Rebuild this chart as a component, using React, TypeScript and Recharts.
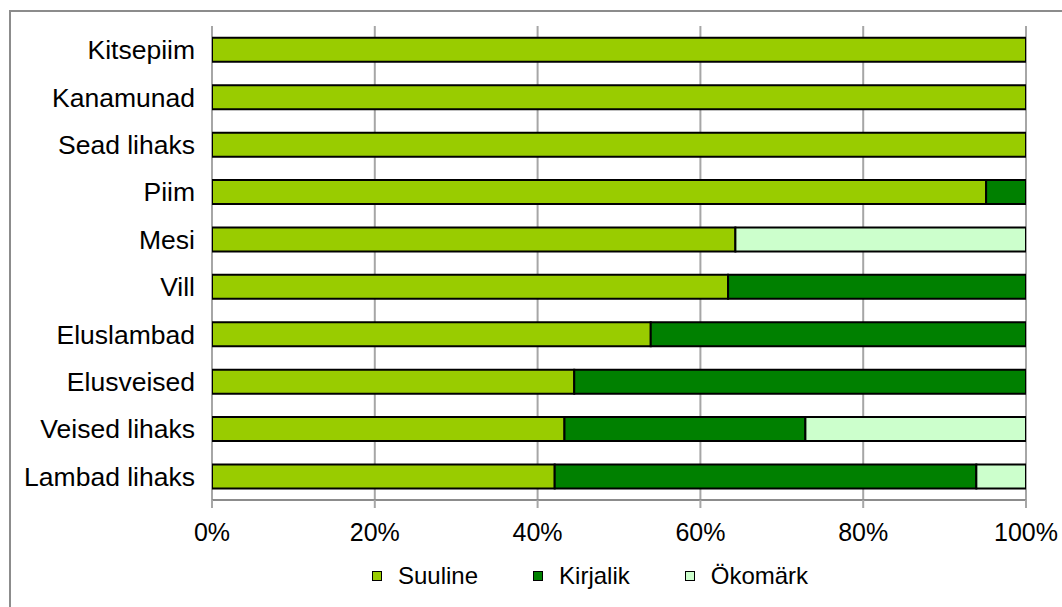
import React from 'react';
import { BarChart, Bar, XAxis, YAxis, CartesianGrid, Legend } from 'recharts';

const categories = ['Kitsepiim', 'Kanamunad', 'Sead lihaks', 'Piim', 'Mesi', 'Vill', 'Eluslambad', 'Elusveised', 'Veised lihaks', 'Lambad lihaks'];
const suuline = [100, 100, 100, 95.1, 64.3, 63.4, 53.9, 44.5, 43.3, 42.1];
const kirjalik = [0, 0, 0, 4.9, 0, 36.6, 46.1, 55.5, 29.6, 51.8];
const okomark = [0, 0, 0, 0, 35.7, 0, 0, 0, 27.1, 6.1];
const xTicks = [0, 20, 40, 60, 80, 100];
const boundaryTicks = [0, 1, 2, 3, 4, 5, 6, 7, 8, 9, 10];

const seriesNames = ['Suuline', 'Kirjalik', 'Ökomärk'];
const seriesColors = ['#99CC00', '#008000', '#CCFFCC'];

const data = categories.map((name, i) => ({
  name,
  Suuline: suuline[i],
  Kirjalik: kirjalik[i],
  'Ökomärk': okomark[i],
}));

const FONT = '"Liberation Sans", Arial, sans-serif';

const LegendContent = (props: any) => {
  const payload = props.payload || [];
  const ordered = seriesNames.map((n, i) => {
    const found = payload.find((p: any) => p.value === n || p.dataKey === n);
    return { value: n, color: found ? found.color : seriesColors[i] };
  });
  return (
    <div style={{ display: 'flex', alignItems: 'center', height: 30, fontFamily: FONT, fontSize: 24, color: '#000' }}>
      {ordered.map((p: any, i: number) => (
        <div key={i} style={{ display: 'flex', alignItems: 'center', marginRight: i < ordered.length - 1 ? 55 : 0 }}>
          <span style={{ display: 'inline-block', width: 8, height: 8, border: '1px solid #000', background: p.color, marginRight: 16 }} />
          <span style={{ whiteSpace: 'nowrap', lineHeight: '30px' }}>{p.value}</span>
        </div>
      ))}
    </div>
  );
};

export default function App() {
  return (
    <div style={{ position: 'absolute', left: 0, top: 0, width: 1062, height: 607, background: '#fff', overflow: 'hidden', fontFamily: FONT }}>
      <div style={{ position: 'absolute', left: 9, top: 10, width: 1200, height: 800, borderLeft: '2px solid #8c8c8c', borderTop: '2px solid #8c8c8c' }} />
      <div style={{ position: 'absolute', left: 0, top: 0 }}>
        <BarChart
          width={1062}
          height={607}
          data={data}
          layout="vertical"
          margin={{ top: 26, right: 36, bottom: 57, left: 0 }}
          barCategoryGap="25%"
        >
          <CartesianGrid horizontal={false} vertical={true} stroke="#a6a6a6" strokeWidth={2} />
          <XAxis
            type="number"
            domain={[0, 100]}
            ticks={xTicks}
            tickFormatter={(v: number) => `${v}%`}
            axisLine={{ stroke: '#8c8c8c', strokeWidth: 2 }}
            tickLine={{ stroke: '#a6a6a6', strokeWidth: 2 }}
            tickSize={8}
            tickMargin={15}
            height={50}
            tick={{ fill: '#000', fontSize: 25, fontFamily: FONT }}
            allowDataOverflow
          />
          <YAxis
            yAxisId="bounds"
            type="number"
            domain={[0, 10]}
            ticks={boundaryTicks}
            width={0}
            tick={false}
            tickSize={8}
            axisLine={{ stroke: '#8c8c8c', strokeWidth: 2 }}
            tickLine={{ stroke: '#8c8c8c', strokeWidth: 2 }}
          />
          <YAxis
            yAxisId="cat"
            type="category"
            dataKey="name"
            width={212}
            axisLine={false}
            tickLine={false}
            tickSize={8}
            tickMargin={9}
            interval={0}
            tick={{ fill: '#000', fontSize: 26.5, fontFamily: FONT }}
          />
          <Legend
            layout="horizontal"
            verticalAlign="middle"
            align="center"
            wrapperStyle={{ top: 561, left: 372, width: 'auto' }}
            content={<LegendContent />}
          />
          {seriesNames.map((s, i) => (
            <Bar
              key={s}
              dataKey={s}
              name={s}
              yAxisId="cat"
              stackId="a"
              fill={seriesColors[i]}
              stroke="#000"
              strokeWidth={2}
              isAnimationActive={false}
            />
          ))}
        </BarChart>
      </div>
    </div>
  );
}
